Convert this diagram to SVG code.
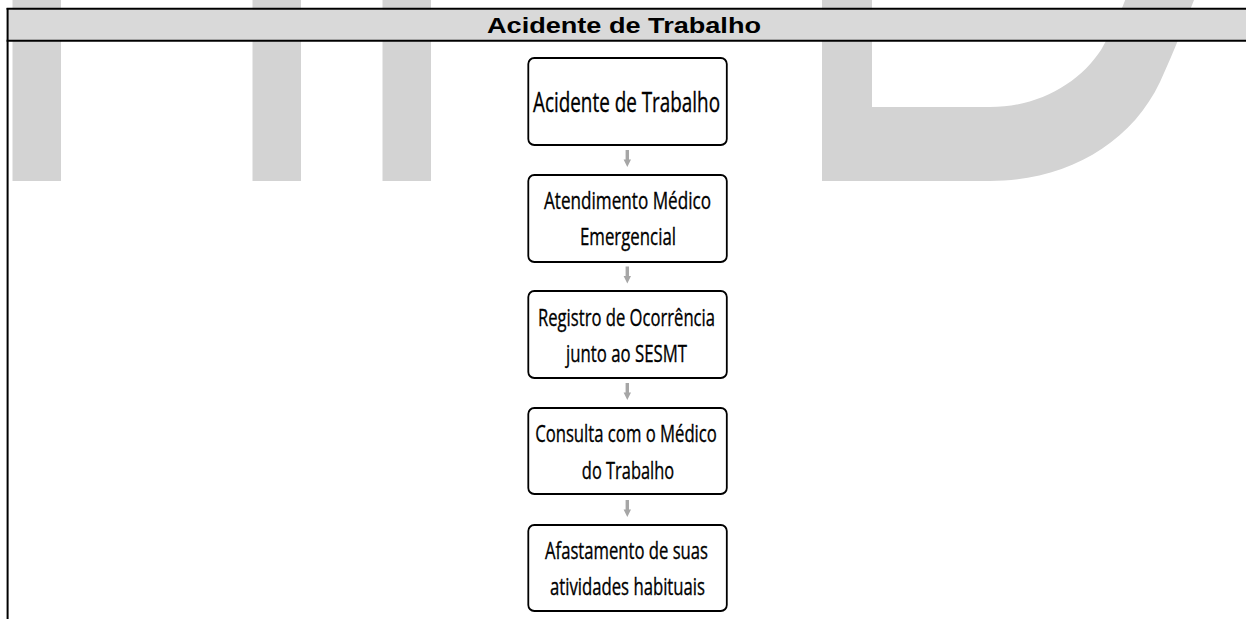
<svg xmlns="http://www.w3.org/2000/svg" width="1246" height="619" viewBox="0 0 1246 619">
<style>
.wm{fill:#d3d3d3;}
.node rect{fill:#ffffff;stroke:#000000;stroke-width:1.8;}
.node text{font-family:"Open Sans","Liberation Sans",sans-serif;fill:#000000;stroke:#000000;stroke-width:0.35;text-anchor:middle;}
.t1{font-size:26.5px;}
.t2{font-size:24px;}
.arrow{fill:#a6a6a6;}
.border{stroke:#000000;stroke-width:2;fill:none;}
.hdr{font-family:"Liberation Sans",Arial,sans-serif;font-weight:bold;font-size:22px;fill:#000000;text-anchor:middle;}
</style>
<rect width="1246" height="619" fill="#ffffff"/>
<g id="watermark">
<rect class="wm" x="12.5" y="0" width="48.5" height="181"/>
<rect class="wm" x="252.5" y="0" width="48.5" height="181"/>
<rect class="wm" x="382.5" y="0" width="48.5" height="181"/>
<path class="wm" fill-rule="evenodd" d="M822,-5 L822,181 L990,181 C1065,181 1130,145 1160,82 C1176,47 1188,15 1196,-5 Z M872,-5 L872,107 L990,107 C1040,107 1080,82 1101,50 C1112,31 1121,12 1127,-5 Z"/>
</g>
<g id="header">
<rect x="7.6" y="9.5" width="1239" height="30.5" style="fill:#d9d9d9"/>
<line class="border" x1="6.6" y1="8.8" x2="1246" y2="8.8"/>
<line class="border" x1="6.6" y1="40.7" x2="1246" y2="40.7"/>
<line class="border" x1="7.6" y1="8" x2="7.6" y2="619"/>
<text class="hdr" x="624" y="33" textLength="274" lengthAdjust="spacingAndGlyphs">Acidente de Trabalho</text>
</g>
<g id="connectors">
<path class="arrow" d="M625.6,150 L629,150 L629,159.5 L631,159.5 L627.3,167 L623.6,159.5 L625.6,159.5 Z"/>
<path class="arrow" d="M625.6,266.5 L629,266.5 L629,276 L631,276 L627.3,283.5 L623.6,276 L625.6,276 Z"/>
<path class="arrow" d="M625.6,383 L629,383 L629,392.5 L631,392.5 L627.3,400 L623.6,392.5 L625.6,392.5 Z"/>
<path class="arrow" d="M625.6,500 L629,500 L629,509.5 L631,509.5 L627.3,517 L623.6,509.5 L625.6,509.5 Z"/>
</g>
<g id="node1" class="node">
<rect x="528.3" y="58" width="198.5" height="87" rx="6"/>
<text class="t1" x="626.5" y="112" textLength="187" lengthAdjust="spacingAndGlyphs">Acidente de Trabalho</text>
</g>
<g id="node2" class="node">
<rect x="528.3" y="175" width="198.5" height="87" rx="6"/>
<text class="t2" x="627.5" y="209" textLength="167" lengthAdjust="spacingAndGlyphs">Atendimento Médico</text>
<text class="t2" x="628" y="245" textLength="96" lengthAdjust="spacingAndGlyphs">Emergencial</text>
</g>
<g id="node3" class="node">
<rect x="528.3" y="291" width="198.5" height="87" rx="6"/>
<text class="t2" x="626.5" y="325.5" textLength="177" lengthAdjust="spacingAndGlyphs">Registro de Ocorrência</text>
<text class="t2" x="626.5" y="361.5" textLength="121" lengthAdjust="spacingAndGlyphs">junto ao SESMT</text>
</g>
<g id="node4" class="node">
<rect x="528.3" y="408" width="198.5" height="86" rx="6"/>
<text class="t2" x="626" y="442" textLength="181.7" lengthAdjust="spacingAndGlyphs">Consulta com o Médico</text>
<text class="t2" x="628" y="478.5" textLength="92.3" lengthAdjust="spacingAndGlyphs">do Trabalho</text>
</g>
<g id="node5" class="node">
<rect x="528.3" y="525" width="198.5" height="86" rx="6"/>
<text class="t2" x="626.5" y="558.5" textLength="163" lengthAdjust="spacingAndGlyphs">Afastamento de suas</text>
<text class="t2" x="627.5" y="594.5" textLength="155" lengthAdjust="spacingAndGlyphs">atividades habituais</text>
</g>
</svg>
